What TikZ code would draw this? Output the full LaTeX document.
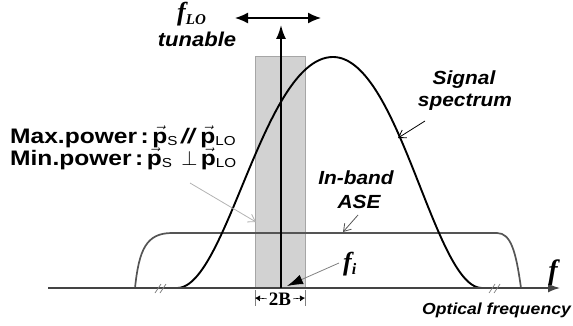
\documentclass[tikz,border=0pt]{standalone}
\usepackage{fontspec}
\setmainfont{Liberation Serif}
\newfontfamily\lab[FakeStretch=1.1]{Liberation Sans}
\newfontfamily\labw[FakeStretch=1.17]{Liberation Sans}
\usetikzlibrary{arrows.meta}
\newcommand\mypv{$\vec{\hbox{\labw\bfseries p}}$}
\newcommand\mysub[1]{\raisebox{-2.5pt}{\fontsize{13}{13}\selectfont\labw\mdseries #1}}
\definecolor{asegray}{HTML}{555555}
\definecolor{axisgray}{HTML}{444444}
\tikzset{
  sig/.style={line width=1.9pt, black, line join=round},
  ase/.style={line width=1.7pt, asegray, line join=round},
  axisline/.style={line width=1.4pt, axisgray},
  brk/.style={line width=0.7pt, gray},
  lbl/.style={inner sep=0pt, font=\lab\bfseries\itshape\fontsize{19}{19}\selectfont},
  ptr/.style={line width=0.8pt, -{Straight Barb[length=7pt,width=9pt]}},
  declare function={rc(\u,\w)=(1+cos((180/\w)*\u))/2; sp(\u,\w)=rc(\u,\w)*(1.3-0.3*rc(\u,\w));},
}
\begin{document}
\begin{tikzpicture}[x=1pt,y=-1pt]
\useasboundingbox (0,0) rectangle (573,326);
% band window
\node[draw=gray!70, fill=gray!35, line width=0.8pt, minimum width=50pt, minimum height=231pt,
      anchor=south west, inner sep=0pt] (win) at (255,288) {};
% ASE
\draw[ase] (135,288) .. controls (139,250) and (146,233) .. (172,233) -- (497,233)
   .. controls (511,233) and (516,252) .. (521,288);
% signal spectrum
\draw[sig] plot[domain=177:333,samples=80] (\x,{288-231*sp(333-\x,156)});
\draw[sig] plot[domain=333:482,samples=80] (\x,{288-231*sp(\x-333,149)});
% axis
\coordinate (axs) at (48,288);
\coordinate (axe) at (560,288);
\draw[axisline, -{Latex[length=12pt,width=9pt]}] (axs) -- (axe);
% breaks
\draw[brk] (155,293) -- (161,284) (160,293) -- (166,284);
\draw[brk] (489,293) -- (495,284) (494,293) -- (500,284);
% LO arrow
\coordinate (vb) at (281,288);
\coordinate (vt) at (281,25);
\draw[line width=1.8pt, -{Latex[length=14pt,width=10pt]}] (vb) -- (vt);
\coordinate (da) at (235,18);
\coordinate (db) at (321,18);
\draw[line width=1.5pt, {Latex[length=13pt,width=11pt]}-{Latex[length=13pt,width=11pt]}] (da) -- (db);
% labels
\node[anchor=base west, inner sep=0pt] (flo) at (177,21)
  {\fontsize{26}{26}\selectfont\bfseries\itshape f\raisebox{-4pt}{\fontsize{15}{15}\selectfont LO}};
\node[lbl, anchor=base, font=\lab\bfseries\itshape\fontsize{20}{20}\selectfont] (tun) at (197,47) {tunable};
\node[lbl, anchor=base] (sig1) at (464,85) {Signal};
\node[lbl, anchor=base] (sig2) at (465,107) {spectrum};
\node[lbl, anchor=base] (ase1) at (356,185) {In-band};
\node[lbl, anchor=base] (ase2) at (359,208) {ASE};
\node[lbl, anchor=base west, font=\lab\bfseries\itshape\fontsize{16}{16}\selectfont] (opt) at (422,314) {Optical frequency};
\node[anchor=base, inner sep=0pt] (faxis) at (553,279) {\fontsize{28}{28}\selectfont\bfseries\itshape f};
\node[anchor=base west, inner sep=0pt] (fi) at (343,270)
  {\fontsize{26}{26}\selectfont\bfseries\itshape f\raisebox{-4pt}{\fontsize{16}{16}\selectfont i}};
\node[anchor=base, inner sep=2pt] (twoB) at (280,305) {\fontsize{19}{19}\selectfont\bfseries 2B};
% polarisation text
\node[anchor=base west, inner sep=0pt] (maxp) at (10,143)
  {\labw\bfseries\fontsize{21}{21}\selectfont Max.power\,:\,\mypv\mysub{S}\,\textit{//}\,\mypv\mysub{LO}};
\node[anchor=base west, inner sep=0pt] (minp) at (10,165)
  {\labw\bfseries\fontsize{21}{21}\selectfont Min.power\,:\,\mypv\mysub{S}\;\,$\perp$\,\mypv\mysub{LO}};
% pointers
\coordinate (sgs) at (425,121);
\coordinate (sge) at (398,138);
\draw[ptr, black] (sgs) -- (sge);
\coordinate (as) at (358,215);
\coordinate (ae) at (343,232);
\draw[ptr, asegray] (as) -- (ae);
\coordinate (ms) at (190,183);
\coordinate (me) at (256,222);
\draw[ptr, gray!60] (ms) -- (me);
\coordinate (fis) at (339,263);
\coordinate (fie) at (287,286);
\draw[line width=0.8pt, gray, -{Latex[length=16pt,width=10pt,color=black]}] (fis) -- (fie);
% 2B dimension
\coordinate (bl) at (255,298);
\coordinate (br) at (305,298);
\draw[line width=0.6pt, gray] (255,290) -- (255,306) (305,290) -- (305,306);
\draw[line width=0.6pt, -{Latex[length=5pt,width=6pt]}] (twoB.west) -- (bl);
\draw[line width=0.6pt, -{Latex[length=5pt,width=6pt]}] (twoB.east) -- (br);
\end{tikzpicture}
\end{document}
